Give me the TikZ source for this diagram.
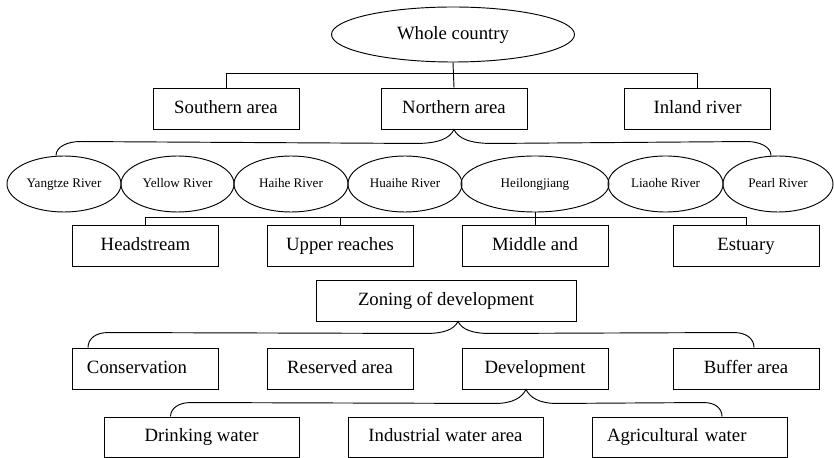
\documentclass[tikz,border=0pt]{standalone}
\usepackage{fontspec}
\setmainfont{Liberation Serif}
\usetikzlibrary{shapes.geometric,calc}

\begin{document}
\begin{tikzpicture}[x=0.03cm, y=-0.03cm, line width=0.8pt,
    box/.style={draw, rectangle, inner sep=0pt, minimum width=4.38cm, minimum height=1.23cm, text height=11.5pt, text depth=3.5pt, font=\fontsize{16}{19}\selectfont},
    widebox/.style={box, minimum width=5.85cm, minimum height=1.2cm},
    river/.style={draw, ellipse, inner sep=0pt, minimum width=3.42cm, minimum height=1.68cm, text height=8pt, text depth=2.5pt, font=\fontsize{11.2}{13}\selectfont},
    bus/.style={line width=1.3pt}]
    \useasboundingbox (0,0) rectangle (834,458);

    % top level
    \node[draw, ellipse, inner sep=0pt, minimum width=7.29cm, minimum height=1.65cm, text height=11.5pt, text depth=3.5pt, font=\fontsize{16}{19}\selectfont] (whole) at (453,34.5) {Whole country};
    \node[box] (south)  at (226,108.5) {Southern area};
    \node[box] (north)  at (454,108.5) {Northern area};
    \node[box] (inland) at (697.5,108.5) {Inland river};
    \draw (whole.south) -- (north.north);
    \draw (south.north) -- ++(0,-14) -| (inland.north);

    % river basins
    \node[river] (yangtze) at (64,184) {Yangtze River};
    \node[river, minimum width=3.39cm] (yellow) at (177.5,184) {Yellow River};
    \node[river] (haihe)   at (291,184) {Haihe River};
    \node[river] (huaihe)  at (405,184) {Huaihe River};
    \node[river, minimum width=4.44cm] (heilong) at (535,184) {Heilongjiang};
    \node[river, minimum width=3.45cm] (liaohe)  at (665.5,184) {Liaohe River};
    \node[river, minimum width=3.3cm] (pearl)   at (778,184) {Pearl River};
    \draw ($(yangtze.north)+(-8,0)$) .. controls +(0,-9) and +(-12,0) .. +(24,-14)
        -- ($(north.south)+(-38,14)$) .. controls +(22,0) and +(-4,9) .. (north.south)
        .. controls +(4,9) and +(-22,0) .. +(38,14)
        -- ($(pearl.north)+(-31,-14)$) .. controls +(12,0) and +(0,-9) .. ($(pearl.north)+(-7,0)$);

    % river sections
    \node[box] (head)    at (145.5,245.5) {Headstream};
    \node[box] (upper)   at (340,245.5) {Upper reaches};
    \node[box] (middle)  at (535,245.5) {Middle and};
    \node[box] (estuary) at (746,245.5) {Estuary};
    \draw (heilong.south) -- (middle.north);
    \draw[bus] (head.north) -- ++(0,-7) coordinate (busl) -- (busl -| middle.north);
    \draw (busl -| middle.north) -| (estuary.north);
    \draw (upper.north) -- (upper.north |- busl);

    % zoning
    \node[box, minimum width=7.8cm] (zoning) at (446,300.5) {Zoning of development};
    \node[box, align=left, text width=3.48cm] (conserv) at (145,368.5) {Conservation};
    \node[box] (reserved) at (340,368.5) {Reserved area};
    \node[box] (develop)  at (535,368.5) {Development};
    \node[box] (buffer)   at (746,368.5) {Buffer area};
    \draw ($(conserv.north)+(-57,0)$) .. controls +(0,-9) and +(-12,0) .. +(20,-15)
        -- ($(zoning.south)+(-20,12)$) .. controls +(18,0) and +(-4,8) .. ($(zoning.south)+(12,0)$)
        .. controls +(4,8) and +(-18,0) .. +(32,12)
        -- ($(buffer.north)+(-12,-15)$) .. controls +(12,0) and +(0,-9) .. ($(buffer.north)+(8,0)$);

    % development use
    \node[widebox] (drinking)   at (201.5,437) {Drinking water};
    \node[widebox] (industrial) at (445.5,437) {Industrial water area};
    \node[widebox, align=left, text width=4.95cm] (agri) at (689.5,437) {Agricultural water};
    \draw ($(drinking.north)+(-31,0)$) .. controls +(0,-8) and +(-12,0) .. +(20,-14)
        -- ($(develop.south)+(-40,14)$) .. controls +(18,0) and +(-4,8) .. ($(develop.south)+(-9,0)$)
        .. controls +(4,8) and +(-18,0) .. +(31,14)
        -- ($(agri.north)+(14,-14)$) .. controls +(12,0) and +(0,-8) .. ($(agri.north)+(32.5,0)$);
\end{tikzpicture}
\end{document}
